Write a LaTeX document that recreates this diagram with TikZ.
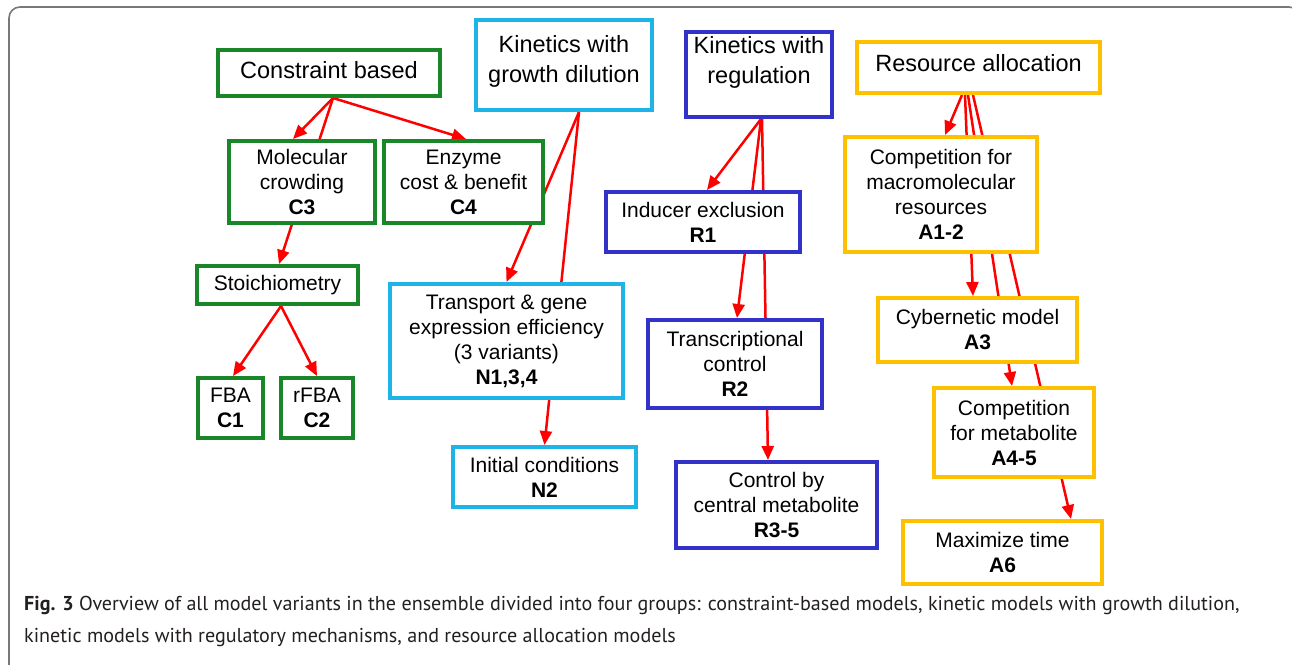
\documentclass[tikz,border=0pt]{standalone}
\usepackage{fontspec}
\setmainfont{Liberation Sans}
\newfontfamily\capfont{PT Sans}
\usetikzlibrary{arrows.meta,backgrounds}

\definecolor{cgreen}{RGB}{25,135,40}
\definecolor{ccyan}{RGB}{30,180,232}
\definecolor{cblue}{RGB}{50,50,200}
\definecolor{cgold}{RGB}{255,192,0}
\definecolor{framegray}{RGB}{120,120,120}
\definecolor{captext}{RGB}{35,31,32}

\begin{document}
\begin{tikzpicture}[x=1pt,y=-1pt,
  box/.style={draw, line width=4pt, fill=white, inner sep=0pt, align=center,
              font=\fontsize{21}{25}\selectfont},
  head/.style={box, font=\fontsize{23.5}{30}\selectfont},
  % header title raised above the box centre
  title/.style 2 args={label={[inner sep=0pt, align=center, yshift=#1,
              font=\fontsize{23.5}{30}\selectfont]center:#2}},
  gc/.style={draw=cgreen},
  kc/.style={draw=ccyan},
  rc/.style={draw=cblue},
  ac/.style={draw=cgold},
  flow/.style={draw=red, line width=2.5pt, -{Triangle[length=14pt,width=12pt]}},
  captionfont/.style={anchor=base west, inner sep=0pt, text=captext,
              font=\capfont\fontsize{20.1}{24}\selectfont}]

\useasboundingbox (0,0) rectangle (1292,664);
\clip (0,0) rectangle (1292,664);

% outer frame
\draw[framegray, line width=1.6pt, rounded corners=11pt] (9,680) -- (9,7) -- (1300,7) -- (1300,680);

% group headers
\node[head, gc, minimum width=222pt, minimum height=46pt, title={3pt}{Constraint based}] (cb) at (329,73) {};
\node[head, kc, minimum width=176pt, minimum height=90pt, title={4pt}{Kinetics with\\growth dilution}] (kgd) at (564,65) {};
\node[head, rc, minimum width=146pt, minimum height=85pt, title={12pt}{Kinetics with\\regulation}] (kr) at (759,74.5) {};
\node[head, ac, minimum width=243pt, minimum height=51pt, title={4.5pt}{Resource allocation}] (ra) at (978.5,67.5) {};

% constraint-based models
\node[box, gc, minimum width=146pt, minimum height=82pt] (mc) at (302,182) {Molecular\\crowding\\\textbf{C3}};
\node[box, gc, minimum width=159pt, minimum height=82pt] (ecb) at (463.5,182) {Enzyme\\cost \& benefit\\\textbf{C4}};
\node[box, gc, minimum width=161pt, minimum height=38pt] (st) at (277.5,285) {Stoichiometry};
\node[box, gc, minimum width=65pt, minimum height=60pt] (fba) at (230.5,408) {FBA\\\textbf{C1}};
\node[box, gc, minimum width=72pt, minimum height=60pt] (rfba) at (317,408) {rFBA\\\textbf{C2}};

% kinetic models with growth dilution
\node[box, kc, minimum width=233pt, minimum height=114pt] (tr) at (506.5,341) {Transport \& gene\\expression efficiency\\(3 variants)\\\textbf{N1,3,4}};
\node[box, kc, minimum width=183pt, minimum height=60pt] (ic) at (544.5,477) {Initial conditions\\\textbf{N2}};

% kinetic models with regulation
\node[box, rc, minimum width=194pt, minimum height=60pt] (ie) at (703,222) {Inducer exclusion\\\textbf{R1}};
\node[box, rc, minimum width=174pt, minimum height=88pt] (tc) at (735,364) {Transcriptional\\control\\\textbf{R2}};
\node[box, rc, minimum width=201pt, minimum height=86pt] (cm) at (776.5,505) {Control by\\central metabolite\\\textbf{R3-5}};

% resource allocation models
\node[box, ac, minimum width=192pt, minimum height=115pt] (a12) at (941,194.5) {Competition for\\macromolecular\\resources\\\textbf{A1-2}};
\node[box, ac, minimum width=199pt, minimum height=64pt] (a3) at (977.5,330) {Cybernetic model\\\textbf{A3}};
\node[box, ac, minimum width=160pt, minimum height=89pt] (a45) at (1014,432.5) {Competition\\for metabolite\\\textbf{A4-5}};
\node[box, ac, minimum width=199pt, minimum height=63pt] (a6) at (1002.5,552.5) {Maximize time\\\textbf{A6}};

% connectors run behind the boxes
\begin{pgfonlayer}{background}
  \draw[flow] ([xshift=4pt]cb.south) -- ([xshift=-9pt]mc.north);
  \draw[flow] ([xshift=4pt]cb.south) -- ([xshift=2.5pt]ecb.north);
  \draw[flow] ([xshift=4pt]cb.south) -- ([xshift=1.5pt]st.north);
  \draw[flow] ([xshift=3.5pt]st.south) -- ([xshift=2.5pt]fba.north);
  \draw[flow] ([xshift=3.5pt]st.south) -- (rfba.north);

  \draw[flow] ([xshift=15pt]kgd.south) -- (tr.north);
  \draw[flow] ([xshift=15pt]kgd.south) -- (ic.north);

  \draw[flow] ([xshift=2pt]kr.south) -- ([xshift=4pt]ie.north);
  \draw[flow] ([xshift=2pt]kr.south) -- ([xshift=2pt]tc.north);
  \draw[flow] ([xshift=3pt]kr.south) -- ([xshift=-8.5pt]cm.north);

  \draw[flow] ([xshift=-16.5pt]ra.south) -- ([xshift=4pt]a12.north);
  \draw[flow] ([xshift=-13.5pt]ra.south) -- ([xshift=-4.5pt]a3.north);
  \draw[flow] ([xshift=-10.5pt]ra.south) -- ([xshift=-2pt]a45.north);
  \draw[flow] ([xshift=-5.5pt]ra.south) -- ([xshift=68.5pt]a6.north);
\end{pgfonlayer}

% caption
\node[captionfont] (cap1) at (24,610)
  {\textbf{Fig. 3} Overview of all model variants in the ensemble divided into four groups: constraint-based models, kinetic models with growth dilution,};
\node[captionfont] (cap2) at (24,642)
  {kinetic models with regulatory mechanisms, and resource allocation models};
\end{tikzpicture}
\end{document}
